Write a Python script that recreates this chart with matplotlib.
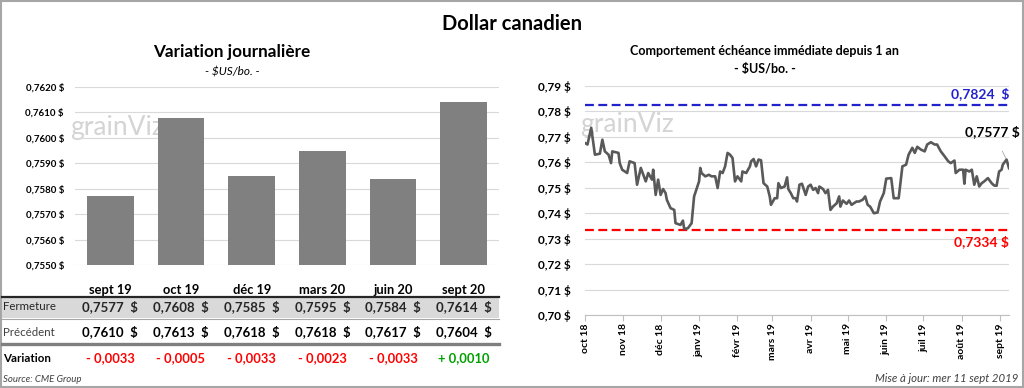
import numpy as np
import pandas as pd
import matplotlib
matplotlib.use('Agg')
import matplotlib.pyplot as plt
from matplotlib.transforms import blended_transform_factory
from matplotlib.patches import Rectangle
from matplotlib.lines import Line2D

plt.rcParams['font.family'] = ['Lato', 'DejaVu Sans']

# ---- data: daily variation (left)
contracts = ['sept 19', 'oct 19', 'déc 19', 'mars 20', 'juin 20', 'sept 20']
fermeture = [0.7577, 0.7608, 0.7585, 0.7595, 0.7584, 0.7614]
precedent = [0.7610, 0.7613, 0.7618, 0.7618, 0.7617, 0.7604]
variation = [-0.0033, -0.0005, -0.0033, -0.0023, -0.0033, 0.0010]
bar_ticks = [0.7550, 0.7560, 0.7570, 0.7580, 0.7590, 0.7600, 0.7610, 0.7620]

# ---- data: front month over one year (right)
dates = ['2018-10-01', '2018-10-03', '2018-10-06', '2018-10-09', '2018-10-13', '2018-10-15',
         '2018-10-17', '2018-10-20', '2018-10-22', '2018-10-23', '2018-10-28', '2018-10-29',
         '2018-10-31', '2018-11-04', '2018-11-06', '2018-11-10', '2018-11-12', '2018-11-15',
         '2018-11-19', '2018-11-21', '2018-11-24', '2018-11-25', '2018-11-27', '2018-11-29',
         '2018-12-01', '2018-12-03', '2018-12-05', '2018-12-06', '2018-12-09', '2018-12-12',
         '2018-12-13', '2018-12-17', '2018-12-19', '2018-12-20', '2018-12-23', '2018-12-26',
         '2018-12-28', '2019-01-01', '2019-01-02', '2019-01-03', '2019-01-06', '2019-01-09',
         '2019-01-11', '2019-01-14', '2019-01-16', '2019-01-18', '2019-01-20', '2019-01-22',
         '2019-01-24', '2019-01-26', '2019-01-28', '2019-01-30', '2019-02-01', '2019-02-04',
         '2019-02-05', '2019-02-08', '2019-02-11', '2019-02-12', '2019-02-14', '2019-02-16',
         '2019-02-18', '2019-02-20', '2019-02-22', '2019-02-25', '2019-02-27', '2019-02-28',
         '2019-03-03', '2019-03-05', '2019-03-06', '2019-03-08', '2019-03-11', '2019-03-13',
         '2019-03-14', '2019-03-16', '2019-03-18', '2019-03-20', '2019-03-21', '2019-03-23',
         '2019-03-25', '2019-03-28', '2019-03-30', '2019-04-01', '2019-04-03', '2019-04-05',
         '2019-04-07', '2019-04-08', '2019-04-11', '2019-04-13', '2019-04-15', '2019-04-17',
         '2019-04-19', '2019-04-22', '2019-04-24', '2019-04-25', '2019-04-27', '2019-04-30',
         '2019-05-02', '2019-05-04', '2019-05-08', '2019-05-10', '2019-05-13', '2019-05-15',
         '2019-05-17', '2019-05-19', '2019-05-22', '2019-05-25', '2019-05-27', '2019-05-30',
         '2019-06-01', '2019-06-05', '2019-06-07', '2019-06-09', '2019-06-11', '2019-06-14',
         '2019-06-17', '2019-06-19', '2019-06-22', '2019-06-24', '2019-06-26', '2019-06-29',
         '2019-07-02', '2019-07-04', '2019-07-07', '2019-07-10', '2019-07-12', '2019-07-15',
         '2019-07-18', '2019-07-21', '2019-07-23', '2019-07-26', '2019-07-27', '2019-07-30',
         '2019-08-02', '2019-08-03', '2019-08-04', '2019-08-07', '2019-08-09', '2019-08-11',
         '2019-08-13', '2019-08-15', '2019-08-17', '2019-08-19', '2019-08-22', '2019-08-25',
         '2019-08-27', '2019-08-29', '2019-08-31', '2019-09-02', '2019-09-03', '2019-09-06',
         '2019-09-08']
prices = [0.7676, 0.7670, 0.7736, 0.7630, 0.7634, 0.7689, 0.7643, 0.7630, 0.7597, 0.7643,
          0.7637, 0.7597, 0.7571, 0.7558, 0.7604, 0.7597, 0.7512, 0.7578, 0.7525, 0.7558,
          0.7532, 0.7571, 0.7472, 0.7532, 0.7472, 0.7495, 0.7479, 0.7453, 0.7420, 0.7413,
          0.7361, 0.7354, 0.7371, 0.7338, 0.7341, 0.7361, 0.7466, 0.7525, 0.7578, 0.7558,
          0.7545, 0.7551, 0.7545, 0.7545, 0.7499, 0.7564, 0.7558, 0.7584, 0.7637, 0.7630,
          0.7617, 0.7525, 0.7545, 0.7525, 0.7564, 0.7558, 0.7584, 0.7604, 0.7613, 0.7584,
          0.7611, 0.7608, 0.7518, 0.7505, 0.7466, 0.7433, 0.7459, 0.7459, 0.7518, 0.7499,
          0.7505, 0.7541, 0.7495, 0.7479, 0.7459, 0.7459, 0.7446, 0.7512, 0.7516, 0.7472,
          0.7505, 0.7512, 0.7492, 0.7499, 0.7479, 0.7505, 0.7495, 0.7479, 0.7492, 0.7413,
          0.7426, 0.7439, 0.7466, 0.7426, 0.7450, 0.7437, 0.7450, 0.7433, 0.7446, 0.7446,
          0.7453, 0.7466, 0.7433, 0.7426, 0.7400, 0.7403, 0.7446, 0.7479, 0.7536, 0.7538,
          0.7459, 0.7459, 0.7459, 0.7584, 0.7591, 0.7630, 0.7657, 0.7637, 0.7661, 0.7650,
          0.7643, 0.7670, 0.7679, 0.7670, 0.7670, 0.7643, 0.7624, 0.7604, 0.7597, 0.7607,
          0.7558, 0.7571, 0.7571, 0.7516, 0.7571, 0.7564, 0.7571, 0.7512, 0.7545, 0.7505,
          0.7518, 0.7525, 0.7538, 0.7518, 0.7509, 0.7508, 0.7564, 0.7571, 0.7591, 0.7611,
          0.7577]
high_1y = 0.7824
low_1y = 0.7334
month_labels = ['oct 18', 'nov 18', 'déc 18', 'janv 19', 'févr 19', 'mars 19', 'avr 19',
                'mai 19', 'juin 19', 'juil 19', 'août 19', 'sept 19']
line_ticks = [0.70, 0.71, 0.72, 0.73, 0.74, 0.75, 0.76, 0.77, 0.78, 0.79]

W, H = 1024, 388
fig = plt.figure(figsize=(W / 100, H / 100), dpi=100)


def fy(y):
    return 1 - y / H


# frame and main title
fig.patches.append(Rectangle((0.001, 0.002), 0.998, 0.996, transform=fig.transFigure,
                             fill=False, edgecolor='#a6a6a6', linewidth=1.5))
fig.text(0.5, fy(24), 'Dollar canadien', ha='center', va='center', fontsize=14.5, fontweight='bold')

# ---------------- left: bars
fig.text(232 / W, fy(52), 'Variation journalière', ha='center', va='center', fontsize=12.3, fontweight='bold')
fig.text(232 / W, fy(72), '- $US/bo. -', ha='center', va='center', fontsize=8.5, style='italic')

ax1 = fig.add_axes([75 / W, fy(265), 424 / W, (265 - 87) / H])
x = np.arange(len(contracts))
ax1.bar(x, fermeture, width=0.66, color='#808080', zorder=2)
ax1.set_xlim(-0.5, len(contracts) - 0.5)
ax1.set_ylim(bar_ticks[0], bar_ticks[-1])
ax1.set_yticks(bar_ticks)
ax1.set_yticklabels([f'{t:.4f} $'.replace('.', ',') for t in bar_ticks])
ax1.set_xticks([])
ax1.grid(axis='y', color='#d9d9d9', linewidth=0.8, zorder=0)
for s in ax1.spines.values():
    s.set_visible(False)
ax1.tick_params(axis='y', length=0, pad=8, labelsize=7)
for lab in ax1.get_yticklabels():
    lab.set_fontweight('bold')
ax1.text(-0.012, 0.73, 'grainViz', transform=ax1.transAxes, fontsize=19, color='#d4d4d4', zorder=1)

# table below bars
tr = blended_transform_factory(ax1.transData, fig.transFigure)
fig.patches.append(Rectangle((0.002, fy(318)), 497 / W, 21 / H, transform=fig.transFigure,
                             facecolor='#d9d9d9', edgecolor='none'))
fig.lines.append(Line2D([0.002, 499 / W], [fy(297), fy(297)], transform=fig.transFigure,
                        color='#262626', linewidth=1.6))
fig.lines.append(Line2D([0.002, 499 / W], [fy(319), fy(319)], transform=fig.transFigure,
                        color='#a6a6a6', linewidth=0.8))
fig.lines.append(Line2D([0.002, 499 / W], [fy(344), fy(344)], transform=fig.transFigure,
                        color='#7f7f7f', linewidth=2.4))
fig.text(3 / W, fy(307), 'Fermeture', va='center', fontsize=8.3, color='#262626')
fig.text(3 / W, fy(332), 'Précédent', va='center', fontsize=8.3, color='#404040')
fig.text(3 / W, fy(358), 'Variation', va='center', fontsize=8.3, fontweight='bold')
for i, c in enumerate(contracts):
    fig.text(i, fy(290), c, transform=tr, ha='center', va='center', fontsize=9.3, fontweight='bold')
    fig.text(i, fy(307), f'{fermeture[i]:.4f}  $'.replace('.', ','), transform=tr,
             ha='center', va='center', fontsize=9.5, fontweight='bold', color='#262626')
    fig.text(i, fy(332), f'{precedent[i]:.4f}  $'.replace('.', ','), transform=tr,
             ha='center', va='center', fontsize=9.5, fontweight='bold')
    v = variation[i]
    sign = '+' if v > 0 else '-'
    fig.text(i, fy(358), f'{sign} {abs(v):.4f}'.replace('.', ','), transform=tr,
             ha='center', va='center', fontsize=9.3, fontweight='bold',
             color='#00a000' if v > 0 else '#ff0000')
fig.text(3 / W, fy(379), 'Source: CME Group', va='center', fontsize=6.9, style='italic', color='#404040')

# ---------------- right: line
fig.text(765 / W, fy(51), 'Comportement échéance immédiate depuis 1 an', ha='center', va='center',
         fontsize=9, fontweight='bold')
fig.text(765 / W, fy(69), '- $US/bo. -', ha='center', va='center', fontsize=9, fontweight='bold')

ax2 = fig.add_axes([585 / W, fy(315), 424 / W, (315 - 86) / H])
d = pd.to_datetime(dates)
ax2.plot(d, prices, color='#595959', linewidth=1.9, zorder=3)
ax2.axhline(high_1y, color='#2222cc', linestyle=(0, (4, 2)), linewidth=1.6, zorder=2)
ax2.axhline(low_1y, color='#ff0000', linestyle=(0, (4, 2)), linewidth=1.6, zorder=2)
ax2.set_xlim(d[0], d[-1])
ax2.set_ylim(line_ticks[0], line_ticks[-1])
ax2.set_yticks(line_ticks)
ax2.set_yticklabels([f'{t:.2f} $'.replace('.', ',') for t in line_ticks])
month_pos = pd.date_range('2018-10-01', '2019-09-01', freq='MS')
ax2.set_xticks(month_pos)
ax2.set_xticklabels(month_labels, rotation=90)
ax2.grid(axis='y', color='#d9d9d9', linewidth=0.8, zorder=0)
for k in ['top', 'right', 'left']:
    ax2.spines[k].set_visible(False)
ax2.spines['bottom'].set_color('#bfbfbf')
ax2.tick_params(axis='y', length=0, pad=10, labelsize=8.5)
ax2.tick_params(axis='x', length=4, color='#bfbfbf', labelsize=7.5, pad=2)
for lab in ax2.get_yticklabels() + ax2.get_xticklabels():
    lab.set_fontweight('bold')
ax2.text(-0.012, 0.80, 'grainViz', transform=ax2.transAxes, fontsize=19, color='#d4d4d4', zorder=1)

ax2.annotate(f'{high_1y:.4f}  $'.replace('.', ','), xy=(1.0, high_1y),
             xycoords=('axes fraction', 'data'), xytext=(0, 4), textcoords='offset points',
             ha='right', va='bottom', fontsize=10, fontweight='bold', color='#2222cc')
ax2.annotate(f'{low_1y:.4f} $'.replace('.', ','), xy=(1.0, low_1y),
             xycoords=('axes fraction', 'data'), xytext=(0, -4), textcoords='offset points',
             ha='right', va='top', fontsize=10, fontweight='bold', color='#ff0000')
ax2.annotate(f'{prices[-1]:.4f} $'.replace('.', ','), xy=(d[-2], prices[-2]),
             xytext=(1020 / W, fy(132)), textcoords='figure fraction',
             ha='right', va='center', fontsize=10, fontweight='bold',
             arrowprops=dict(arrowstyle='-', color='#a6a6a6', linewidth=0.6, shrinkA=8, shrinkB=1))

fig.text(1018 / W, fy(379), 'Mise à jour: mer 11 sept 2019', ha='right', va='center',
         fontsize=8.2, style='italic', color='#404040')

fig.savefig('out.png', dpi=100)
